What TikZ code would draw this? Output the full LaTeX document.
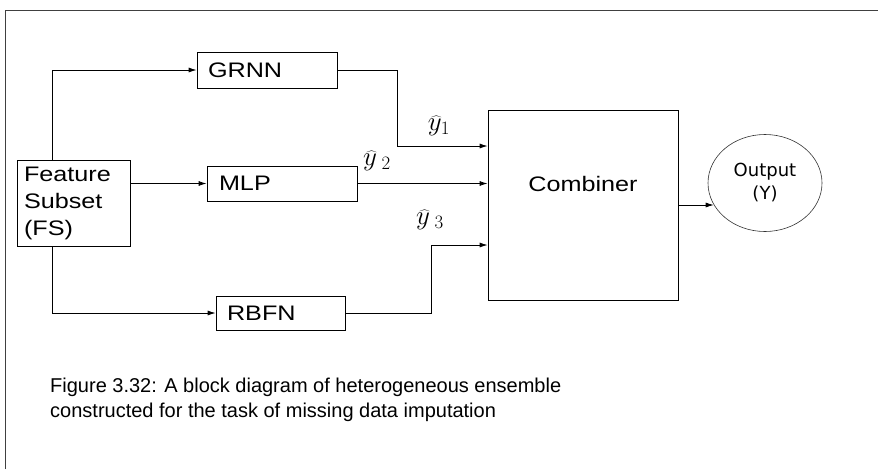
\RequirePackage{fix-cm}
\documentclass[tikz,border=0pt]{standalone}
\usepackage{fontspec}
\setmainfont{Liberation Sans}
\newfontfamily\boxfont[FakeStretch=1.2]{Liberation Sans}
\newfontfamily\outfont{DejaVu Sans}
\usetikzlibrary{arrows.meta,shapes.geometric}
\tikzset{
  blockbox/.style={draw, line width=0.8pt, inner sep=0pt, align=left, font=\boxfont\fontsize{21}{27}\selectfont},
  flow/.style={line width=0.8pt, -{Latex[length=8pt,width=5pt]}},
  yhat/.style={inner sep=0pt, font=\fontsize{27}{27}\selectfont}
}
\begin{document}
\begin{tikzpicture}[x=1pt,y=-1pt]
\useasboundingbox (0,0) rectangle (878,469);
\draw[line width=0.8pt, black!75] (5,469) |- (878,10);
\node[blockbox, minimum width=113pt, minimum height=86pt, text width=99pt] (fs) at (73.5,203) {Feature\\Subset\\(FS)};
\node[blockbox, minimum width=140pt, minimum height=36pt, text width=118pt] (grnn) at (267,70) {GRNN};
\node[blockbox, minimum width=150pt, minimum height=35pt, text width=126pt] (mlp) at (282,183.5) {MLP};
\node[blockbox, minimum width=129pt, minimum height=34pt, text width=107pt] (rbfn) at (280.5,313) {RBFN};
\node[blockbox, align=center, minimum width=190pt, minimum height=190pt, text height=16pt, text depth=44pt] (comb) at (583,205) {Combiner};
\node[draw, ellipse, line width=0.6pt, black!80, text=black, inner sep=0pt, minimum width=114pt, minimum height=97pt, align=center, font=\outfont\fontsize{18}{23}\selectfont] (out) at (765,183) {Output\\(Y)};
\node[yhat] (y1) at (439,126) {$\widehat{y}_{1}$};
\node[yhat] (y2) at (377,161) {$\widehat{y}\,_{2}$};
\node[yhat] (y3) at (430,220) {$\widehat{y}\,_{3}$};
\draw[flow] ([xshift=-21pt]fs.north) |- (grnn.west);
\draw[flow] ([xshift=-21pt]fs.south) |- (rbfn.west);
\draw[flow] (fs.east |- mlp.west) -- (mlp.west);
\draw[flow] (grnn.east) -- ++(60,0) |- ([yshift=59pt]comb.west);
\draw[flow] (mlp.east) -- (mlp.east -| comb.west);
\draw[flow] (rbfn.east) -- ++(86,0) |- ([yshift=-40pt]comb.west);
\draw[flow] (comb.east) -- (comb.east -| out.203);
\node[anchor=north west, align=left, inner sep=0pt, font=\fontsize{20}{25}\selectfont] (cap) at (50,378) {Figure 3.32: A block diagram of heterogeneous ensemble\\constructed for the task of missing data imputation};
\end{tikzpicture}
\end{document}
